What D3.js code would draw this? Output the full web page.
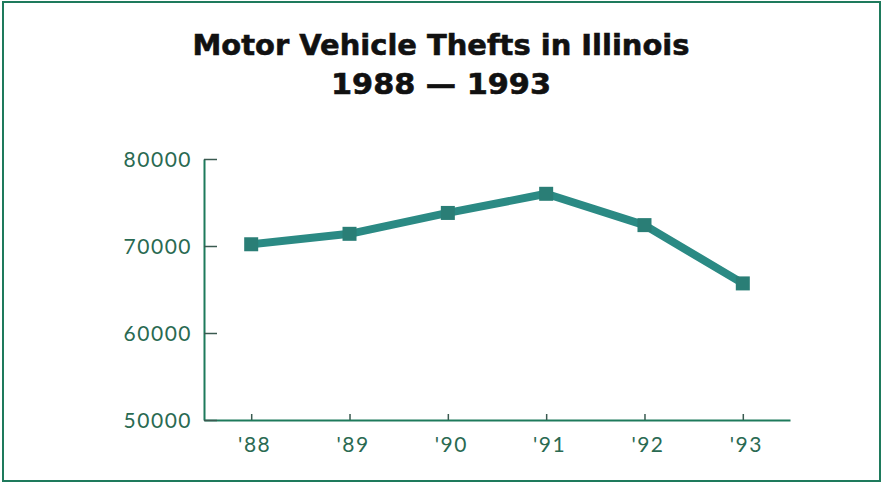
<!DOCTYPE html>
<html><head><meta charset="utf-8">
<script src="https://cdn.jsdelivr.net/npm/d3@7"></script>
<style>body{margin:0;background:#fff}svg{display:block}</style>
</head><body>
<svg id="c" width="882" height="494"></svg>
<script>
const categories = ["'88","'89","'90","'91","'92","'93"];
const thefts = [70200, 71400, 73800, 76000, 72400, 65700];
const yTicks = [50000, 60000, 70000, 80000];
const titleLines = ["Motor Vehicle Thefts in Illinois", "1988 — 1993"];
const titleWidths = [497, 220];

const svg = d3.select("#c");
const green = "#1e7a5c";
svg.append("rect").attr("x",3).attr("y",2).attr("width",877).attr("height",479)
  .attr("fill","#fff").attr("stroke",green).attr("stroke-width",2);

svg.append("g").selectAll("text").data(titleLines).join("text")
  .attr("x",441).attr("y",(d,i)=>55+i*39).attr("text-anchor","middle")
  .attr("font-family","'DejaVu Sans', sans-serif").attr("font-weight",700).attr("font-size",29)
  .attr("textLength",(d,i)=>titleWidths[i]).attr("lengthAdjust","spacingAndGlyphs")
  .attr("stroke","#111").attr("stroke-width",0.6)
  .attr("fill","#111").text(d=>d);

const x = d3.scalePoint().domain(categories).range([204,790]).padding(0.48);
const y = d3.scaleLinear().domain([50000,80000]).range([420,159]);

const gx = svg.append("g").attr("transform","translate(0,420)")
  .call(d3.axisBottom(x).tickSizeInner(-6).tickSizeOuter(0).tickPadding(14));
const gy = svg.append("g").attr("transform","translate(204,0)")
  .call(d3.axisLeft(y).tickValues(yTicks).tickSizeInner(-13).tickSizeOuter(0).tickPadding(12).tickFormat(d3.format("d")));
[gx,gy].forEach(g=>{
  g.select(".domain").attr("stroke",green).attr("stroke-width",2);
  g.selectAll(".tick line").attr("stroke","#3a5a50").attr("stroke-width",1.5);
  g.selectAll(".tick text").attr("font-family","Lato, sans-serif").attr("font-weight",400)
   .attr("font-size",21).attr("letter-spacing","1.5px").attr("fill","#2a6a52");
});
gx.selectAll(".tick text").attr("dy","0.85em").attr("dx","3");
gy.selectAll(".tick text").attr("dy","0.35em");

const line = d3.line().x((d,i)=>x(categories[i])).y(d=>y(d));
svg.append("path").datum(thefts).attr("d",line).attr("fill","none")
  .attr("stroke","#2b8a84").attr("stroke-width",8).attr("stroke-linejoin","round");
svg.append("g").selectAll("rect").data(thefts).join("rect")
  .attr("x",(d,i)=>x(categories[i])-7).attr("y",d=>y(d)-7)
  .attr("width",14).attr("height",14).attr("fill","#2a7e76");
</script>
</body></html>
